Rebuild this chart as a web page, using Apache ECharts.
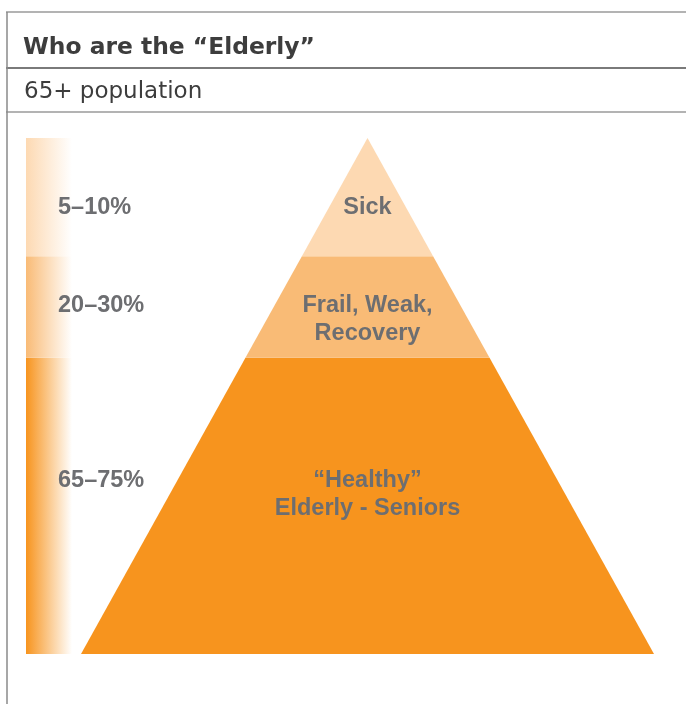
<!DOCTYPE html>
<html>
<head>
<meta charset="utf-8">
<script src="https://cdn.jsdelivr.net/npm/echarts@6/dist/echarts.min.js"></script>
<style>
  html, body { margin: 0; padding: 0; background: #fff; }
  #chart { width: 686px; height: 704px; }
</style>
</head>
<body>
<div id="chart"></div>
<script>
// Pyramid layers, listed from the base upward
const layerNames = ['“Healthy”\nElderly - Seniors', 'Frail, Weak,\nRecovery', 'Sick'];
const layerShares = ['65–75%', '20–30%', '5–10%'];
// Height of each layer as a percentage of the pyramid's height
const layerHeights = [57.4, 19.7, 22.9];

const layerColors = ['#f7941e', '#f9bb76', '#fdd9b2'];
// Vertical centre of each layer's caption, in pyramid-height percent
const captionLevels = [31.0, 64.8, 86.6];
const BAR_LEFT = 26, BAR_WIDTH = 46, PLOT_TOP = 138, PLOT_BOTTOM = 50;
const TEXT_GREY = '#6d6e71';
const HEAD_GREY = '#3d3d3d';
const FONT = '"Liberation Sans", Arial, sans-serif';
const HEAD_FONT = '"DejaVu Sans", Verdana, sans-serif';
const LABEL_FONT = 'bold 23.5px ' + FONT;
const LINE_H = 28;

// Cumulative [lower, upper] bounds of each layer
const bands = [];
let acc = 0;
layerHeights.forEach(h => { bands.push([acc, acc + h]); acc += h; });

const chart = echarts.init(document.getElementById('chart'), null, { renderer: 'canvas' });

// Left-hand shading strip: one stacked segment per layer, fading to white
const barSeries = layerHeights.map((h, i) => ({
  type: 'bar',
  xAxisIndex: 0,
  yAxisIndex: 0,
  stack: 'share',
  barWidth: '100%',
  silent: true,
  z: 1,
  data: [h],
  itemStyle: {
    color: new echarts.graphic.LinearGradient(0, 0, 1, 0, [
      { offset: 0, color: layerColors[i] },
      { offset: 1, color: '#ffffff' }
    ])
  }
}));

const pyramidSeries = {
  type: 'custom',
  xAxisIndex: 1,
  yAxisIndex: 1,
  silent: true,
  clip: false,
  z: 10,
  data: bands,
  renderItem: function (params, api) {
    const i = params.dataIndex;
    const lo = api.value(0), hi = api.value(1);
    const half = v => 1 - v / 100;
    const pts = [
      api.coord([-half(lo), lo]),
      api.coord([half(lo), lo]),
      api.coord([half(hi), hi]),
      api.coord([-half(hi), hi])
    ];
    const c = api.coord([0, captionLevels[i]]);
    const lines = layerNames[i].split('\n').length;
    const firstLineY = c[1] - (lines - 1) * LINE_H / 2;
    return {
      type: 'group',
      children: [
        {
          type: 'polygon',
          shape: { points: pts },
          style: { fill: layerColors[i], stroke: null }
        },
        {
          type: 'text',
          x: c[0], y: c[1],
          style: {
            text: layerNames[i],
            fill: TEXT_GREY,
            font: LABEL_FONT,
            align: 'center',
            verticalAlign: 'middle',
            lineHeight: LINE_H
          }
        },
        {
          type: 'text',
          x: BAR_LEFT + 32, y: firstLineY,
          style: {
            text: layerShares[i],
            fill: TEXT_GREY,
            font: LABEL_FONT,
            align: 'left',
            verticalAlign: 'middle'
          }
        }
      ]
    };
  }
};

chart.setOption({
  animation: false,
  backgroundColor: '#ffffff',
  grid: [
    { left: BAR_LEFT, width: BAR_WIDTH, top: PLOT_TOP, bottom: PLOT_BOTTOM },
    { left: 81, right: 32, top: PLOT_TOP, bottom: PLOT_BOTTOM }
  ],
  xAxis: [
    { gridIndex: 0, type: 'category', data: ['65+'], show: false },
    { gridIndex: 1, type: 'value', min: -1, max: 1, show: false }
  ],
  yAxis: [
    { gridIndex: 0, type: 'value', min: 0, max: 100, show: false },
    { gridIndex: 1, type: 'value', min: 0, max: 100, show: false }
  ],
  graphic: [
    { type: 'line', shape: { x1: 6, y1: 12, x2: 686, y2: 12 }, style: { stroke: '#9a9a9a', lineWidth: 1.5 } },
    { type: 'line', shape: { x1: 6, y1: 68, x2: 686, y2: 68 }, style: { stroke: '#7a7a7a', lineWidth: 2 } },
    { type: 'line', shape: { x1: 6, y1: 112, x2: 686, y2: 112 }, style: { stroke: '#9a9a9a', lineWidth: 1.5 } },
    { type: 'line', shape: { x1: 7, y1: 12, x2: 7, y2: 704 }, style: { stroke: '#8a8a8a', lineWidth: 1.5 } },
    {
      type: 'text', x: 23, y: 48,
      style: { text: 'Who are the “Elderly”', font: 'bold 23.4px ' + HEAD_FONT, fill: HEAD_GREY, verticalAlign: 'middle' }
    },
    {
      type: 'text', x: 24, y: 92.5,
      style: { text: '65+ population', font: '23px ' + HEAD_FONT, fill: HEAD_GREY, verticalAlign: 'middle' }
    }
  ],
  series: barSeries.concat([pyramidSeries])
});
</script>
</body>
</html>
